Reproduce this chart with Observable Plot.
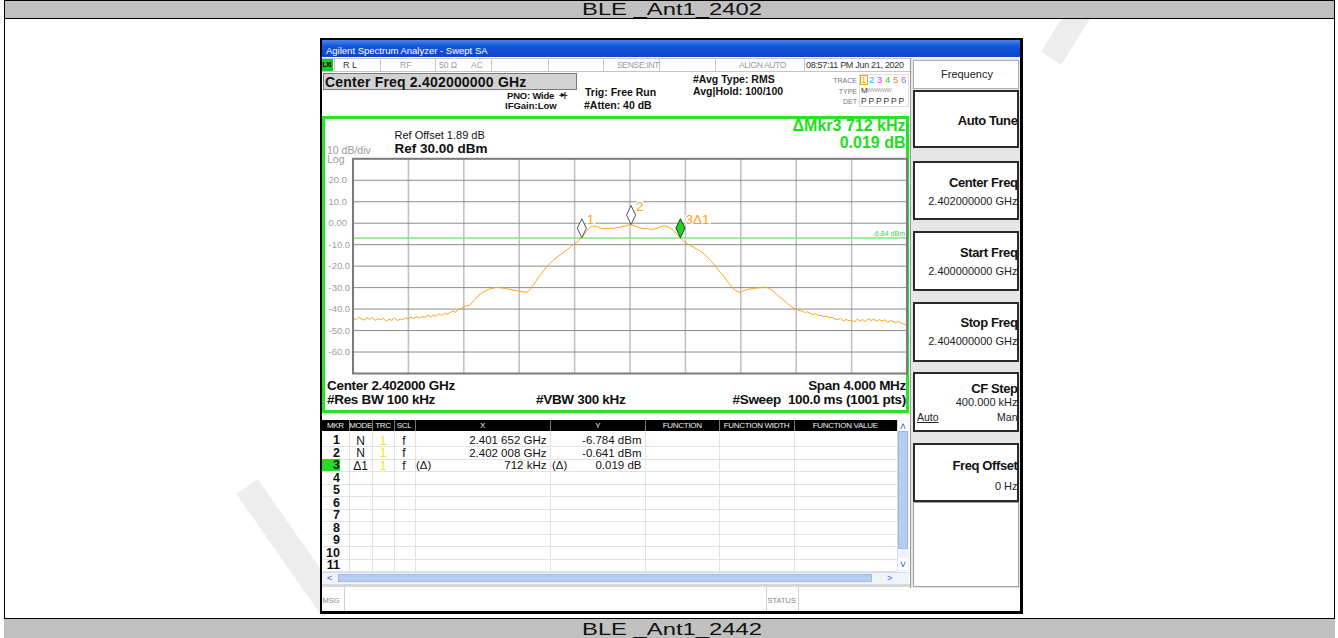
<!DOCTYPE html>
<html><head><meta charset="utf-8">
<script src="https://cdn.jsdelivr.net/npm/d3@7"></script>
<script src="https://cdn.jsdelivr.net/npm/@observablehq/plot@0.6"></script>
<style>
html,body{margin:0;padding:0;background:#fff;}
#page{position:relative;width:1338px;height:638px;overflow:hidden;font-family:"Liberation Sans",Arial,sans-serif;background:#fff;color:#111;}
.a{position:absolute;white-space:nowrap;line-height:1;}
.b{position:absolute;box-sizing:border-box;}
</style></head><body><div id="page"></div>
<script>
// ---------------- chart data ----------------
const traceStartGHz = 2.400;
const traceStopGHz = 2.404;
// 201 trace readings (dBm) at 20 kHz spacing
const traceDbm = [
-44.2,-44.9,-43.8,-44.6,-45.1,-44.0,-44.7,-43.9,-45.3,-44.5,
-45.0,-44.3,-45.6,-44.8,-45.2,-44.1,-45.4,-44.6,-44.9,-44.0,
-44.6,-43.7,-44.4,-43.5,-44.2,-43.4,-43.9,-42.8,-43.6,-42.9,
-43.3,-42.2,-43.0,-41.9,-42.4,-41.6,-41.0,-41.4,-40.3,-39.8,
-38.9,-38.5,-38.3,-37.0,-35.5,-34.0,-33.0,-32.0,-31.4,-30.8,
-30.4,-30.1,-29.9,-30.0,-30.2,-30.4,-30.7,-30.9,-31.2,-31.4,
-31.6,-31.9,-32.1,-32.0,-30.8,-29.0,-27.0,-25.2,-23.5,-21.8,
-20.2,-18.8,-17.6,-16.5,-15.5,-14.6,-13.6,-12.6,-11.7,-10.6,
-9.5,-8.6,-7.4,-6.1,-4.2,-2.6,-1.5,-1.3,-1.6,-2.1,
-2.6,-2.5,-2.6,-2.3,-2.4,-2.1,-2.0,-1.7,-1.4,-1.0,
-0.7,-0.9,-1.4,-1.9,-2.3,-2.6,-2.5,-2.8,-2.9,-2.6,
-2.3,-1.7,-1.3,-1.4,-1.9,-2.7,-3.8,-5.2,-6.7,-7.9,
-9.0,-9.8,-10.5,-11.2,-12.0,-12.6,-13.5,-14.6,-16.0,-17.3,
-18.6,-20.3,-22.0,-23.5,-25.0,-26.8,-28.5,-30.0,-31.2,-32.0,
-32.1,-31.5,-31.0,-30.7,-30.5,-30.3,-30.2,-30.0,-29.8,-29.9,
-30.2,-31.0,-32.1,-33.2,-34.3,-35.4,-36.4,-37.6,-38.6,-39.5,
-40.1,-40.6,-40.9,-41.5,-41.3,-42.0,-42.6,-42.2,-43.1,-42.9,
-43.6,-43.2,-44.1,-43.8,-44.6,-45.0,-44.3,-45.6,-44.8,-45.4,
-45.1,-46.0,-44.7,-45.5,-44.9,-45.8,-44.4,-45.3,-44.7,-45.6,
-44.9,-45.5,-45.0,-46.1,-45.4,-45.8,-46.3,-45.7,-46.6,-47.0,-47.6
];
const yDomain = [-70, 30];
const yGridDbm = [20, 10, 0, -10, -20, -30, -40, -50, -60];
const yTickLabels = ["20.0","10.0","0.00","-10.0","-20.0","-30.0","-40.0","-50.0","-60.0"];
const xGridGHz = [2.4004, 2.4008, 2.4012, 2.4016, 2.4020, 2.4024, 2.4028, 2.4032, 2.4036];
const displayLineDbm = -6.84;
const displayLineLabel = "-6.84 dBm";
const markerLabels = ["1", "2", "3\u03941"];
const markerFreqGHz = [2.401652, 2.402008, 2.402364];
const markerDbm = [-6.784, -0.641, -6.765];
const markerActive = [false, false, true];
// marker table
const tableRowIds = ["1","2","3","4","5","6","7","8","9","10","11"];
const tableMode = ["N","N","\u03941"];
const tableX = ["2.401 652 GHz","2.402 008 GHz","712 kHz"];
const tableY = ["-6.784 dBm","-0.641 dBm","0.019 dB"];

// ---------------- helpers ----------------
const page = document.getElementById("page");
function B(x, y, w, h, css) {
  const d = document.createElement("div"); d.className = "b";
  d.style.cssText = `left:${x}px;top:${y}px;width:${w}px;height:${h}px;` + (css || "");
  page.appendChild(d); return d;
}
function T(x, base, s, fs, css, align) {
  const d = document.createElement("div"); d.className = "a"; d.textContent = s;
  let st = `top:${(base - 0.847 * fs).toFixed(2)}px;font-size:${fs}px;` + (css || "");
  if (align === "right") st += `right:${1338 - x}px;`;
  else if (align === "center") st += `left:${x - 300}px;width:600px;text-align:center;`;
  else st += `left:${x}px;`;
  d.style.cssText = st; page.appendChild(d); return d;
}

// ---------------- watermark ----------------
B(215, 535, 150, 26, "background:#ededed;transform:rotate(55deg);transform-origin:center;");
B(1030, 8, 90, 24, "background:#ededed;transform:rotate(-58deg);transform-origin:center;");

// ---------------- outer table ----------------
B(4, 0, 1331, 19, "background:#c0c0c0;border:1px solid #000;");
B(4, 0, 1, 638, "background:#000;");
B(1334, 0, 1, 638, "background:#000;");
B(4, 618, 1331, 21, "background:#c0c0c0;border-top:1px solid #000;");
T(672, 15.5, "BLE _Ant1_2402", 17, "transform:scaleX(1.4);", "center");
T(672, 635, "BLE _Ant1_2442", 17, "transform:scaleX(1.4);", "center");

// ---------------- analyzer screenshot ----------------
B(320, 38, 703, 576, "background:#000;");
B(322, 40, 698, 571, "background:#fff;");
B(322, 40, 698, 17, "background:linear-gradient(#4a86f0,#1656dc 35%,#0b47c6);");
T(326, 54, "Agilent Spectrum Analyzer - Swept SA", 9.5, "color:#fff;");

// status row
B(322, 58, 589, 14, "border-top:1px solid #c4c4c4;border-bottom:1px solid #c4c4c4;");
B(322, 59, 11, 12, "background:#1ec81e;");
T(322.5, 68, "LXI", 6.5, "color:#000;font-weight:bold;letter-spacing:-0.5px;");
[333.5, 379.5, 435, 490.5, 548, 602.5, 659, 715, 804].forEach(x => B(x, 59, 1, 12, "background:#c4c4c4;"));
T(343, 68.5, "R L", 9, "color:#333;");
T(400, 68.5, "RF", 8.5, "color:#999;");
T(439, 68.5, "50 \u03a9", 8.5, "color:#999;");
T(471, 68.5, "AC", 8.5, "color:#999;");
T(617, 68.5, "SENSE:INT", 8.5, "color:#999;letter-spacing:-0.3px;");
T(739, 68.5, "ALIGN AUTO", 8.5, "color:#999;letter-spacing:-0.4px;");
T(806, 68.5, "08:57:11 PM Jun 21, 2020", 9, "color:#333;letter-spacing:-0.3px;");

// center freq box and settings
B(323, 73, 254, 17, "background:#d2d2d2;border:1px solid #7a7a7a;");
T(325, 86.5, "Center Freq 2.402000000 GHz", 14, "font-weight:bold;letter-spacing:0.2px;");
T(507, 98.7, "PNO: Wide", 9.5, "font-weight:bold;letter-spacing:-0.2px;");
T(559, 98, "-\u25b8|-", 8, "font-weight:bold;letter-spacing:-1px;");
T(505, 109, "IFGain:Low", 9.5, "font-weight:bold;");
T(585, 95.5, "Trig: Free Run", 10.5, "font-weight:bold;");
T(584, 108.5, "#Atten: 40 dB", 10.5, "font-weight:bold;");
T(693, 83, "#Avg Type: RMS", 10.5, "font-weight:bold;");
T(693, 94.5, "Avg|Hold: 100/100", 10.5, "font-weight:bold;");
T(857, 83, "TRACE", 7, "color:#777;", "right");
T(857, 93.5, "TYPE", 7, "color:#777;", "right");
T(857, 104, "DET", 7, "color:#777;", "right");
B(859, 74, 50, 33, "border:1px solid #ddd;");
B(859.5, 74.5, 8, 10, "border:1px solid #f0a020;");
const traceColors = ["#ffa500","#19b6ff","#ff2bd6","#2ccd2c","#ff7a1a","#9b6bff"];
traceColors.forEach((c, i) => T(861 + i * 8, 83.5, String(i + 1), 9.5, `color:${c};`));
T(861, 93.5, "M", 8, "color:#333;");
T(867, 93, "WWWWW", 5.5, "color:#999;letter-spacing:-0.3px;");
T(861, 104, "P P P P P P", 8.5, "color:#333;letter-spacing:-0.2px;");

// green frame and annotations
B(322, 116, 587, 297, "border:3px solid #2ee02e;");
T(394.5, 139.3, "Ref Offset 1.89 dB", 11, "color:#111;");
T(394.5, 153, "Ref 30.00 dBm", 13.5, "font-weight:bold;");
T(327, 154.5, "10 dB/div\nLog", 10.5, "color:#9a9a9a;white-space:pre;line-height:9px;top:146px;");
T(905.5, 131.7, "\u0394Mkr3 712 kHz", 16, "color:#22dd22;font-weight:bold;", "right");
T(905.5, 148.3, "0.019 dB", 16, "color:#22dd22;font-weight:bold;", "right");
T(327, 390, "Center 2.402000 GHz", 13.5, "font-weight:bold;letter-spacing:-0.3px;");
T(906, 390, "Span 4.000 MHz", 13.5, "font-weight:bold;letter-spacing:-0.3px;", "right");
T(327, 404.5, "#Res BW 100 kHz", 13.5, "font-weight:bold;letter-spacing:-0.3px;");
T(536, 404.5, "#VBW 300 kHz", 13.5, "font-weight:bold;letter-spacing:-0.3px;");
T(906, 404, "#Sweep  100.0 ms (1001 pts)", 13.5, "font-weight:bold;letter-spacing:-0.3px;white-space:pre;", "right");

// ---------------- the Plot chart ----------------
const trace = traceDbm.map((v, i) => ({
  f: traceStartGHz + i * (traceStopGHz - traceStartGHz) / (traceDbm.length - 1),
  v
}));
const markers = markerLabels.map((label, i) => ({label, f: markerFreqGHz[i], v: markerDbm[i], active: markerActive[i]}));
const tallDiamond = {draw(ctx) { ctx.moveTo(0, 0); ctx.lineTo(4.5, -9.5); ctx.lineTo(0, -19); ctx.lineTo(-4.5, -9.5); ctx.closePath(); }};
const chart = Plot.plot({
  width: 587, height: 218,
  marginLeft: 30.5, marginRight: 2.5, marginTop: 1.3, marginBottom: 2,
  x: {domain: [traceStartGHz, traceStopGHz], axis: null},
  y: {domain: yDomain, axis: null},
  style: {background: "transparent", overflow: "visible", fontFamily: "Liberation Sans, Arial, sans-serif"},
  marks: [
    Plot.gridX(xGridGHz, {stroke: "#c2c2c2", strokeOpacity: 1, strokeWidth: 1.6}),
    Plot.gridY(yGridDbm, {stroke: "#8c8c8c", strokeOpacity: 1, strokeWidth: 1}),
    Plot.text(yGridDbm, {y: d => d, text: (d, i) => yTickLabels[i], frameAnchor: "left", textAnchor: "start", dx: -24.5, fill: "#a0a0a0", fontSize: 9.5}),
    Plot.ruleY([displayLineDbm], {stroke: "#7fe87f", strokeWidth: 1.5}),
    Plot.text([displayLineDbm], {y: d => d, text: [displayLineLabel], frameAnchor: "right", textAnchor: "end", lineAnchor: "bottom", dx: -2, dy: -2, fill: "#44d044", fontSize: 7}),
    Plot.line(trace, {x: "f", y: "v", stroke: "#ffa31a", strokeWidth: 1}),
    Plot.frame({stroke: "#7a7a7a", strokeWidth: 2}),
    Plot.dot(markers.filter(d => !d.active), {x: "f", y: "v", symbol: tallDiamond, fill: "white", stroke: "#555", strokeWidth: 1}),
    Plot.dot(markers.filter(d => d.active), {x: "f", y: "v", symbol: tallDiamond, fill: "#16d616", stroke: "#333", strokeWidth: 1}),
    Plot.text(markers, {x: "f", y: "v", text: "label", textAnchor: "start", lineAnchor: "bottom", dx: 5, dy: -14, fill: "#ffa21a", fontSize: 13.5, stroke: "white", strokeWidth: 3, paintOrder: "stroke"})
  ]
});
const holder = document.createElement("div");
holder.style.cssText = "position:absolute;left:322px;top:157px;";
holder.appendChild(chart);
page.appendChild(holder);

// ---------------- marker table ----------------
const colEdges = [322, 348.7, 372.4, 393.5, 414.5, 550.4, 645.3, 719.2, 793.8, 896.7];
const colHeads = ["MKR","MODE","TRC","SCL","X","Y","FUNCTION","FUNCTION WIDTH","FUNCTION VALUE"];
B(322, 420, 575, 11, "background:#000;");
colEdges.slice(1, -1).forEach(x => B(x, 420, 1, 11, "background:#777;"));
colHeads.forEach((h, i) => T((colEdges[i] + colEdges[i + 1]) / 2, 428.5, h, 8, "color:#eee;letter-spacing:-0.3px;", "center"));
for (let k = 0; k < 11; k++) B(322, 446 + k * 12.5, 575, 1, "background:#e2e2e2;");
colEdges.slice(1, -1).forEach(x => B(x, 431, 1, 141, "background:#e2e2e2;"));
B(322, 458.5, 18, 12, "background:#22dd22;");
tableRowIds.forEach((id, k) => T(340, 445 + k * 12.5, id, 12.5, "font-weight:bold;", "right"));
tableMode.forEach((m, k) => {
  const b = 445 + k * 12.5;
  T(360.5, b, m, 12, "", "center");
  T(383, b, "1", 12, "color:#f2e21a;", "center");
  T(404, b, "f", 12, "", "center");
  T(546.5, b, tableX[k], 11.5, "", "right");
  T(641.5, b, tableY[k], 11.5, "", "right");
});
T(416, 470, "(\u0394)", 11.5);
T(552, 470, "(\u0394)", 11.5);
// scrollbars
B(897, 420, 12, 151, "background:#eef3fc;border-left:1px solid #d0dcf0;");
B(898, 421, 10, 10, "background:#fff;");
T(903, 430, "\u02c4", 11, "color:#3a66c8;", "center");
B(898, 431, 10, 118, "background:#b9cdf3;border:1px solid #9fb6e6;");
B(898, 558, 10, 12, "background:#fff;");
T(903, 568, "\u02c5", 11, "color:#3a66c8;", "center");
B(322, 572, 587, 12, "background:#eef3fc;border-top:1px solid #d0dcf0;");
T(327, 581.5, "<", 9, "color:#3a66c8;");
B(338, 574, 534, 8, "background:#b9cdf3;border:1px solid #9fb6e6;");
T(887, 581.5, ">", 9, "color:#3a66c8;");
B(322, 584, 589, 3, "background:#d6d6d6;");
// MSG bar
B(322, 587, 589, 24, "background:#fff;");
B(343.5, 587, 1, 24, "background:#cfcfcf;");
B(766, 587, 1, 24, "background:#cfcfcf;");
B(798, 587, 1, 24, "background:#cfcfcf;");
T(322.5, 603, "MSG", 7.5, "color:#888;");
T(767.5, 603, "STATUS", 7.5, "color:#888;");

// ---------------- softkey panel ----------------
B(910, 58, 110, 530, "background:#e6e6e6;border-left:1px solid #9a9a9a;");
B(913, 60, 106, 29, "background:#fff;border:1px solid #b0b0b0;");
T(967, 78, "Frequency", 11, "color:#222;", "center");
const keys = [
  {y: 90, h: 58, label: "Auto Tune", lb: 125},
  {y: 160.5, h: 59, label: "Center Freq", lb: 186.7, val: "2.402000000 GHz", vb: 205},
  {y: 230.5, h: 60, label: "Start Freq", lb: 256.7, val: "2.400000000 GHz", vb: 275},
  {y: 301.5, h: 60, label: "Stop Freq", lb: 327.5, val: "2.404000000 GHz", vb: 345},
  {y: 371.5, h: 60, label: "CF Step", lb: 393.3, val: "400.000 kHz", vb: 406.7},
  {y: 442.5, h: 59, label: "Freq Offset", lb: 470, val: "0 Hz", vb: 490}
];
keys.forEach(k => {
  B(913, k.y, 106, k.h, "background:#fff;border:2px solid #2a2a2a;");
  T(1017.5, k.lb, k.label, 13, "font-weight:bold;letter-spacing:-0.4px;", "right");
  if (k.val) T(1017.5, k.vb, k.val, 11, "color:#222;", "right");
});
T(917, 421, "Auto", 10.5, "text-decoration:underline;color:#222;");
T(1017.5, 421, "Man", 10.5, "color:#222;", "right");
B(913, 501.5, 106, 85, "background:#fff;border:1px solid #a0a0a0;");
</script></body></html>
